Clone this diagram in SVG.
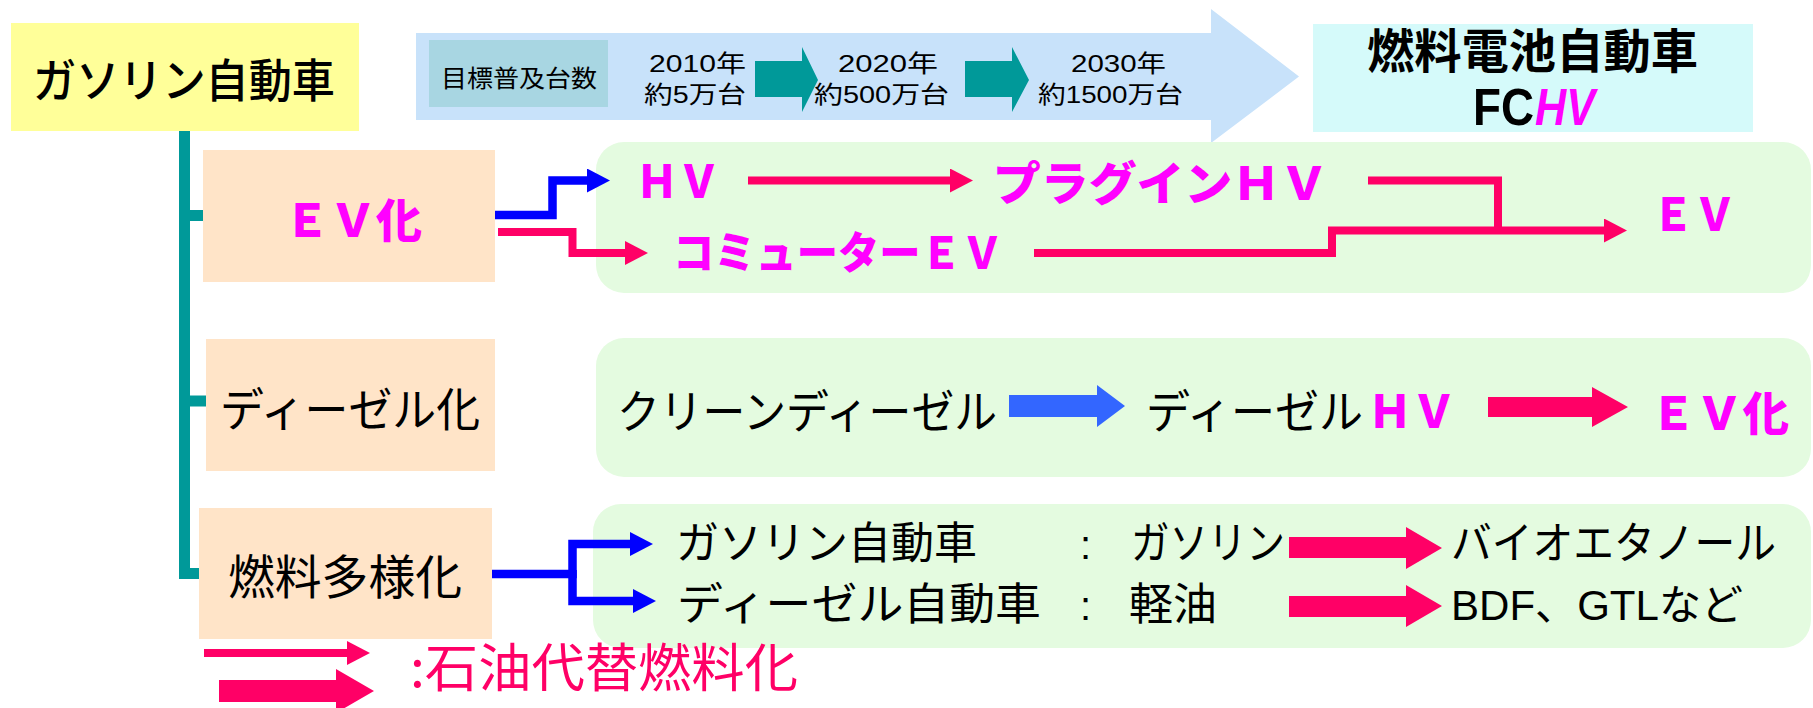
<svg xmlns="http://www.w3.org/2000/svg" width="1813" height="708" viewBox="0 0 1813 708">
<defs>
<style>
.jp{font-family:'Noto Sans CJK JP','Noto Sans CJK SC',sans-serif;}
.lat{font-family:'Liberation Sans','Noto Sans CJK JP',sans-serif;}
.pop{font-family:'Noto Sans CJK JP',sans-serif;font-weight:900;fill:#FF00FF;}
.blk{fill:#000;}
.peach{fill:#FFE4C8;}
.green{fill:#E4FBE0;}
.thinred{fill:none;stroke:#FF0066;stroke-width:8;stroke-linejoin:miter;}
.thinblue{fill:none;stroke:#0000FF;stroke-width:8.5;stroke-linejoin:miter;}
.teal{fill:none;stroke:#009999;stroke-width:11;stroke-linejoin:miter;}
.redblock{fill:#FF0066;}
</style>
<marker id="hr" markerUnits="userSpaceOnUse" markerWidth="24" markerHeight="24" refX="1" refY="12" orient="auto"><path d="M0,0 L23,12 L0,24 z" fill="#FF0066"/></marker>
<marker id="hb" markerUnits="userSpaceOnUse" markerWidth="24" markerHeight="24" refX="1" refY="12" orient="auto"><path d="M0,0 L23,12 L0,24 z" fill="#0000FF"/></marker>
</defs>
<rect width="1813" height="708" fill="#fff"/>

<g id="timeline">
<polygon points="416,33 1211,33 1211,9 1299,76.5 1211,143 1211,120 416,120" fill="#C8E2FA"/>
<rect x="429" y="40" width="179" height="67" fill="#A8D6E2"/>
<text class="jp blk" x="441" y="87" font-size="24" textLength="156" lengthAdjust="spacingAndGlyphs">目標普及台数</text>
<text class="lat blk" x="649" y="72" font-size="24" textLength="97" lengthAdjust="spacingAndGlyphs">2010年</text>
<text class="lat blk" x="644" y="103" font-size="24" textLength="102" lengthAdjust="spacingAndGlyphs">約5万台</text>
<polygon points="755,61 802,61 802,47 818,80 802,112 802,97 755,97" fill="#009999"/>
<text class="lat blk" x="838" y="72" font-size="24" textLength="100" lengthAdjust="spacingAndGlyphs">2020年</text>
<text class="lat blk" x="814" y="103" font-size="24" textLength="135" lengthAdjust="spacingAndGlyphs">約500万台</text>
<polygon points="965,61 1012,61 1012,47 1029,80 1012,112 1012,97 965,97" fill="#009999"/>
<text class="lat blk" x="1071" y="72" font-size="24" textLength="95" lengthAdjust="spacingAndGlyphs">2030年</text>
<text class="lat blk" x="1038" y="103" font-size="24" textLength="145" lengthAdjust="spacingAndGlyphs">約1500万台</text>
</g>

<g id="gasoline">
<rect x="11" y="23" width="348" height="108" fill="#FFFF99"/>
<text class="jp blk" x="33" y="97" font-size="46" font-weight="500" textLength="302" lengthAdjust="spacingAndGlyphs">ガソリン自動車</text>
</g>

<g id="fchv">
<rect x="1313" y="24" width="440" height="108" fill="#D5FAFA"/>
<text class="jp blk" x="1367" y="68" font-size="47" font-weight="bold" textLength="331" lengthAdjust="spacingAndGlyphs">燃料電池自動車</text>
<text class="lat blk" x="1473" y="125" font-size="51" font-weight="bold" textLength="61" lengthAdjust="spacingAndGlyphs">FC</text>
<text class="lat" x="1535" y="125" font-size="51" font-weight="bold" font-style="italic" fill="#FF00FF" textLength="60" lengthAdjust="spacingAndGlyphs">HV</text>
</g>

<g id="ev">
<rect class="peach" x="203" y="150" width="292" height="132"/>
<text class="pop" x="284" y="237" font-size="46" textLength="138" lengthAdjust="spacingAndGlyphs">ＥＶ化</text>
</g>

<g id="ev-path">
<rect class="green" x="596" y="142" width="1215" height="151" rx="28"/>
<text class="pop" x="636" y="198" font-size="46" textLength="84" lengthAdjust="spacingAndGlyphs">ＨＶ</text>
<text class="pop" x="993" y="200" font-size="46" textLength="335" lengthAdjust="spacingAndGlyphs">プラグインＨＶ</text>
<text class="pop" x="673" y="269" font-size="44" textLength="330" lengthAdjust="spacingAndGlyphs">コミューターＥＶ</text>
<text class="pop" x="1652" y="231" font-size="46" textLength="84" lengthAdjust="spacingAndGlyphs">ＥＶ</text>
</g>

<g id="diesel">
<rect class="peach" x="206" y="339" width="289" height="132"/>
<text class="jp blk" x="220" y="426" font-size="46" textLength="260" lengthAdjust="spacingAndGlyphs">ディーゼル化</text>
</g>

<g id="diesel-path">
<rect class="green" x="596" y="338" width="1215" height="139" rx="28"/>
<text class="jp blk" x="617" y="428" font-size="46" textLength="380" lengthAdjust="spacingAndGlyphs">クリーンディーゼル</text>
<text class="jp blk" x="1146" y="428" font-size="46" textLength="217" lengthAdjust="spacingAndGlyphs">ディーゼル</text>
<text class="pop" x="1368" y="428" font-size="46" textLength="88" lengthAdjust="spacingAndGlyphs">ＨＶ</text>
<text class="pop" x="1650" y="430" font-size="46" textLength="139" lengthAdjust="spacingAndGlyphs">ＥＶ化</text>
</g>

<g id="fuel">
<rect class="peach" x="199" y="508" width="293" height="131"/>
<text class="jp blk" x="228" y="594" font-size="47" textLength="234" lengthAdjust="spacingAndGlyphs">燃料多様化</text>
</g>

<g id="fuel-path">
<rect class="green" x="593" y="504" width="1218" height="144" rx="28"/>
<text class="jp blk" x="676" y="559" font-size="44" textLength="301" lengthAdjust="spacingAndGlyphs">ガソリン自動車</text>
<text class="lat blk" x="1080" y="559" font-size="40">:</text>
<text class="jp blk" x="1131" y="559" font-size="44" textLength="154" lengthAdjust="spacingAndGlyphs">ガソリン</text>
<text class="jp blk" x="1451" y="559" font-size="44" textLength="325" lengthAdjust="spacingAndGlyphs">バイオエタノール</text>
<text class="jp blk" x="677" y="620" font-size="44" textLength="364" lengthAdjust="spacingAndGlyphs">ディーゼル自動車</text>
<text class="lat blk" x="1080" y="620" font-size="40">:</text>
<text class="jp blk" x="1129" y="620" font-size="44" textLength="88" lengthAdjust="spacingAndGlyphs">軽油</text>
<text class="lat blk" x="1451" y="620" font-size="42" textLength="292" lengthAdjust="spacingAndGlyphs">BDF、GTLなど</text>
</g>

<g id="connectors">
<path class="teal" d="M184.5,131 V573.5 H199"/>
<path class="teal" d="M184.5,215.5 H203"/>
<path class="teal" d="M184.5,401 H206"/>
<path class="thinblue" d="M495,215 H552.5 V180.5 H588" marker-end="url(#hb)"/>
<path class="thinred" d="M498,232 H572.5 V253 H626" marker-end="url(#hr)"/>
<path class="thinred" d="M748,180.5 H951" marker-end="url(#hr)"/>
<path class="thinred" d="M1368,180.5 H1498 V230.5"/>
<path class="thinred" d="M1034,253 H1332 V230.5 H1605" marker-end="url(#hr)"/>
<polygon points="1009,395 1097,395 1097,385 1125,406 1097,427 1097,417 1009,417" fill="#3366FF"/>
<polygon class="redblock" points="1488,397 1592,397 1592,387 1628,407 1592,427 1592,417 1488,417"/>
<path class="thinblue" d="M492,574 H572.5 V544 H631" marker-end="url(#hb)"/>
<path class="thinblue" d="M572.5,570 V601 H634" marker-end="url(#hb)"/>
<polygon class="redblock" points="1289,537 1406,537 1406,527 1442,548 1406,569 1406,558 1289,558"/>
<polygon class="redblock" points="1289,596 1406,596 1406,585 1442,606 1406,627 1406,617 1289,617"/>
</g>

<g id="legend">
<path class="thinred" d="M204,653 H348" marker-end="url(#hr)"/>
<polygon class="redblock" points="219,680 336,680 336,669 374,691 336,713 336,702 219,702"/>
<text class="jp" x="410" y="687" font-size="52" fill="#FF0066" textLength="388" lengthAdjust="spacingAndGlyphs">:石油代替燃料化</text>
</g>
</svg>
